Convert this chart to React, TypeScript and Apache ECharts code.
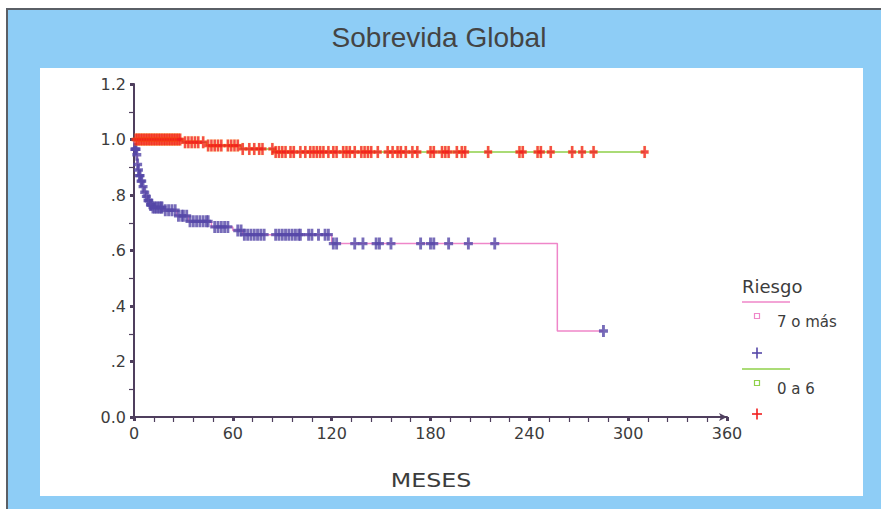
import React, { useEffect, useRef } from 'react';
import * as echarts from 'echarts';

const titleText = 'Sobrevida Global';
const xAxisName = 'MESES';
const legendTitle = 'Riesgo';
const groupNames = ['7 o más', '0 a 6'];
const yTickLabels = ['0.0', '.2', '.4', '.6', '.8', '1.0', '1.2'];

// Group "7 o más": survival steps [month, survival]
const stepsHigh: [number, number][] = [
  [0, 1.0], [0.3, 0.965], [1.5, 0.945], [2, 0.91], [2.5, 0.89], [3, 0.87], [4, 0.85],
  [5, 0.83], [6, 0.81], [7, 0.795], [8, 0.78], [9.5, 0.765], [11, 0.755], [18, 0.745],
  [26, 0.725], [33, 0.705], [47, 0.685], [60, 0.672], [66, 0.657], [120, 0.625],
  [257, 0.31], [285, 0.31],
];
const censorHigh: number[] = [
  0.5, 1, 1.2, 1.7, 2.2, 2.7, 3.3, 3.7, 4.3, 4.7, 5.5, 6.5, 7.5, 8.5, 9, 10, 10.5,
  11.5, 12.5, 13.5, 14.5, 15.5, 16.5, 17, 19, 21, 23, 25, 27, 29, 30, 32,
  34, 36, 38, 40, 42, 44, 45, 49, 51, 53, 55, 57, 63, 65,
  67, 69, 71, 73, 75, 77, 79, 86, 88, 90, 92, 94, 96, 98, 100, 101, 106, 108, 112, 116, 118,
  121, 123, 134, 139, 147, 149, 156, 174, 180, 182, 191, 203, 219, 285,
];

// Group "0 a 6"
const stepsLow: [number, number][] = [
  [0, 1.0], [29.5, 0.99], [44, 0.978], [65, 0.966], [85, 0.955], [310, 0.955],
];
const censorLow: number[] = [
  1, 2, 3, 4, 5, 6, 7, 8, 9, 10, 11, 12, 13, 14, 15, 16, 17, 18, 19, 20, 21, 22, 23, 24, 25, 26, 27, 28,
  31, 33, 35, 37, 39, 42, 45, 47, 49, 51, 53, 57, 59, 61, 63, 66, 70, 73, 76, 78, 84,
  86, 88, 90, 92, 95, 97, 101, 104, 107, 109, 111, 113, 115, 118, 121, 123, 127, 129, 131, 134,
  138, 140, 142, 144, 148, 154, 157, 160, 162, 165, 169, 172, 180, 182, 187, 189, 191, 196, 199,
  201, 215, 234, 236, 245, 247, 253, 266, 272, 279, 310,
];

const survivalAt = (steps: [number, number][], t: number) => {
  let v = steps[0][1];
  for (const [st, sv] of steps) {
    if (st <= t) v = sv;
  }
  return v;
};

const PLUS = 'path://M3.4,0 H6.6 V3.6 H10 V6.4 H6.6 V10 H3.4 V6.4 H0 V3.6 H3.4 Z';

const pink = '#ef86c9';
const purple = '#5547a8';
const green = '#8fd04a';
const red = '#f21d1d';
const axisColor = '#4f3f5e';
const textColor = '#3c3c3c';
const FONT = '"Liberation Sans", Arial, sans-serif';
const WIDE = '"DejaVu Sans", Verdana, sans-serif';

export default function App() {
  const ref = useRef<HTMLDivElement>(null);
  useEffect(() => {
    if (!ref.current) return;
    const chart = echarts.init(ref.current, undefined, { renderer: 'svg' });
    const legendX = 742;
    const plusShape = (cx: number, cy: number, color: string) => ({
      type: 'group',
      children: [
        { type: 'line', shape: { x1: cx - 5, y1: cy, x2: cx + 5, y2: cy }, style: { stroke: color, lineWidth: 1.6 } },
        { type: 'line', shape: { x1: cx, y1: cy - 5.5, x2: cx, y2: cy + 5.5 }, style: { stroke: color, lineWidth: 1.6 } },
      ],
    });
    chart.setOption({
      animation: false,
      backgroundColor: '#ffffff',
      textStyle: { fontFamily: WIDE },
      graphic: [
        {
          type: 'rect', z: -20, silent: true,
          shape: { x: 7, y: 9, width: 880, height: 510 },
          style: { fill: '#8ecdf6', stroke: '#5a5f66', lineWidth: 2 },
        },
        {
          type: 'rect', z: -19, silent: true,
          shape: { x: 40, y: 68, width: 823, height: 428 },
          style: { fill: '#ffffff' },
        },
        {
          type: 'text', x: 439, y: 37, z: 5,
          style: { text: titleText, fontSize: 28, fill: '#444444', fontFamily: FONT, align: 'center', verticalAlign: 'middle' },
        },
        {
          type: 'text', x: 431, y: 480, z: 5, scaleX: 1.25,
          style: { text: xAxisName, fontSize: 19, fill: textColor, fontFamily: WIDE, align: 'center', verticalAlign: 'middle' },
        },
        {
          type: 'text', x: legendX, y: 286, z: 5,
          style: { text: legendTitle, fontSize: 18, fill: textColor, fontFamily: WIDE, verticalAlign: 'middle' },
        },
        { type: 'line', z: 5, shape: { x1: legendX, y1: 302, x2: 790, y2: 302 }, style: { stroke: pink, lineWidth: 1.5 } },
        { type: 'rect', z: 5, shape: { x: 754.5, y: 313.5, width: 5, height: 5 }, style: { fill: 'none', stroke: pink, lineWidth: 1.2 } },
        {
          type: 'text', x: 777, y: 322, z: 5,
          style: { text: groupNames[0], fontSize: 15, fill: textColor, fontFamily: WIDE, verticalAlign: 'middle' },
        },
        { ...plusShape(757, 353, purple), z: 5 },
        { type: 'line', z: 5, shape: { x1: legendX, y1: 369, x2: 790, y2: 369 }, style: { stroke: green, lineWidth: 1.5 } },
        { type: 'rect', z: 5, shape: { x: 754.5, y: 380.5, width: 5, height: 5 }, style: { fill: 'none', stroke: green, lineWidth: 1.2 } },
        {
          type: 'text', x: 777, y: 389, z: 5,
          style: { text: groupNames[1], fontSize: 15, fill: textColor, fontFamily: WIDE, verticalAlign: 'middle' },
        },
        { ...plusShape(757, 414, red), z: 5 },
      ],
      grid: { left: 134, top: 84, width: 593, height: 333, containLabel: false },
      xAxis: {
        type: 'value', min: 0, max: 360, interval: 60,
        axisLine: { show: true, lineStyle: { color: axisColor, width: 2 }, symbol: ['none', 'arrow'], symbolSize: [6, 8] },
        axisTick: { show: true, length: 4, lineStyle: { color: axisColor, width: 3 } },
        minorTick: { show: true, splitNumber: 5, length: 5, lineStyle: { color: axisColor, width: 1.2 } },
        axisLabel: { fontSize: 16, color: textColor, margin: 8, fontFamily: WIDE },
        splitLine: { show: false },
      },
      yAxis: {
        type: 'value', min: 0, max: 1.2, interval: 0.2,
        axisLine: { show: true, lineStyle: { color: axisColor, width: 2 } },
        axisTick: { show: true, length: 4, lineStyle: { color: axisColor, width: 3 } },
        minorTick: { show: true, splitNumber: 2, length: 5, lineStyle: { color: axisColor, width: 1.2 } },
        axisLabel: {
          fontSize: 16, color: textColor, margin: 8, fontFamily: WIDE,
          formatter: (v: number) => yTickLabels[Math.round(v / 0.2)] ?? '',
        },
        splitLine: { show: false },
      },
      series: [
        {
          name: groupNames[0], type: 'line', step: 'end', data: stepsHigh,
          showSymbol: false, lineStyle: { color: pink, width: 1.5 }, z: 2,
        },
        {
          name: groupNames[1], type: 'line', step: 'end', data: stepsLow,
          showSymbol: false, lineStyle: { color: green, width: 1.5 }, z: 2,
        },
        {
          name: groupNames[0] + ' censurado', type: 'scatter',
          data: censorHigh.map((t) => [t, survivalAt(stepsHigh, t)]),
          symbol: PLUS, symbolSize: [9, 12],
          itemStyle: { color: purple }, z: 3,
        },
        {
          name: groupNames[1] + ' censurado', type: 'scatter',
          data: censorLow.map((t) => [t, survivalAt(stepsLow, t)]),
          symbol: PLUS, symbolSize: [8, 12],
          itemStyle: { color: red, borderColor: 'rgba(255,190,0,0.6)', borderWidth: 0.3 }, z: 4,
        },
      ],
    });
    return () => chart.dispose();
  }, []);
  return (
    <div
      ref={ref}
      style={{ position: 'absolute', left: 0, top: 0, width: 881, height: 509 }}
    />
  );
}
